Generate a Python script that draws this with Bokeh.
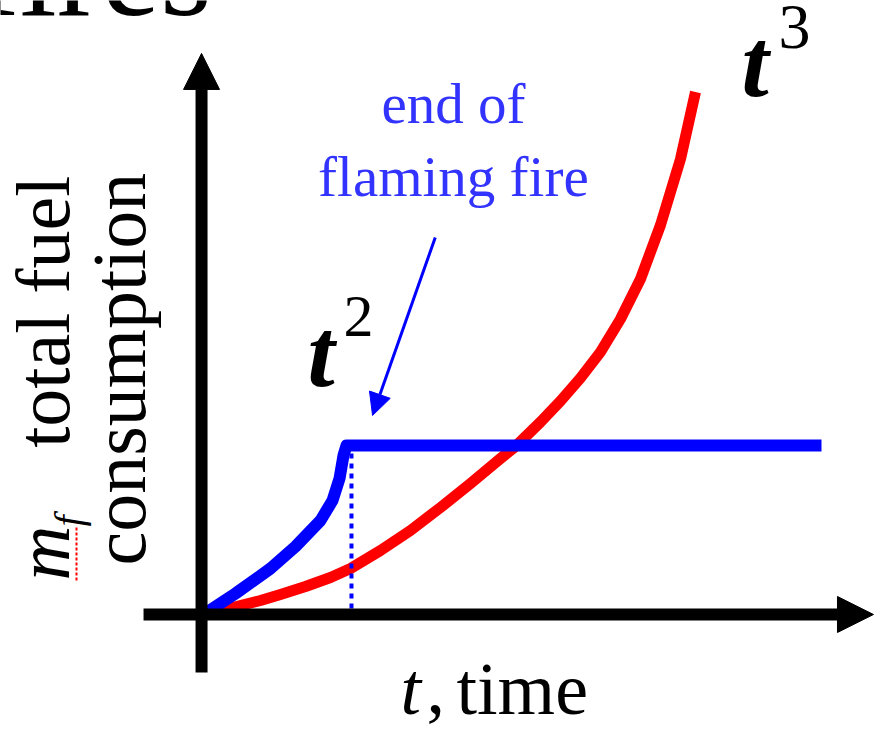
import math
from bokeh.plotting import figure
from bokeh.models import Range1d, Arrow, NormalHead, Label
from bokeh.embed import file_html
from bokeh.resources import INLINE

# ---- data (time t, total fuel consumption m) ----
flaming_t = [0.0, 0.653, 1.367, 1.878, 2.388, 2.633, 2.776, 2.857, 2.918, 12.612]
flaming_m = [0.0, 1.228, 2.690, 3.977, 5.497, 6.667, 7.953, 9.298, 9.883, 9.883]

smolder_t = [0.0, 0.204, 0.755, 1.163, 1.571, 2.082, 2.592, 3.000, 3.612, 4.224, 4.837,
             5.449, 6.061, 6.367, 6.878, 7.286, 7.694, 8.102, 8.510, 8.918, 9.327, 9.735, 10.041]
smolder_m = [0.0, 0.117, 0.526, 0.819, 1.170, 1.637, 2.164, 2.690, 3.743, 4.912, 6.257,
             7.661, 9.123, 9.825, 11.257, 12.485, 13.830, 15.351, 17.281, 19.620, 22.778, 26.637, 30.556]

end_flaming_t = 3.02
end_flaming_m = [9.41, -0.23]

# axis extents
x_axis_t = [-1.224, 13.673]
y_axis_m = [-3.39, 32.81]

# text labels
title_text = "fires"
note_lines = ["end of", "flaming fire"]
ylabel_line1 = "total fuel"
ylabel_line2 = "consumption"
xlabel_text = "time"

SERIF = "Liberation Serif"
PX_T = 49.0    # pixels per t unit
PX_M = 17.1    # pixels per m unit
BASE_FIX = 0.36  # baseline correction (fraction of font size)

p = figure(width=879, height=730, output_backend="svg", toolbar_location=None,
           x_range=Range1d(-4.143, 13.796), y_range=Range1d(-6.784, 35.906),
           min_border=0)
p.axis.visible = False
p.grid.visible = False
p.outline_line_color = None
p.background_fill_color = "white"
p.border_fill_color = "white"

# axes with arrow heads
p.add_layout(Arrow(end=NormalHead(size=36, fill_color="black", line_color="black", line_width=1),
                   x_start=x_axis_t[0], y_start=0, x_end=x_axis_t[1], y_end=0,
                   line_width=12, line_color="black"))
p.add_layout(Arrow(end=NormalHead(size=36, fill_color="black", line_color="black", line_width=1),
                   x_start=-0.04, y_start=y_axis_m[0], x_end=-0.04, y_end=y_axis_m[1],
                   line_width=12, line_color="black"))

# curves
p.line(smolder_t, smolder_m, line_color="#ff0000", line_width=11, line_join="round")
p.line(flaming_t, flaming_m, line_color="#0000ff", line_width=12, line_join="round")

# dotted marker at end of flaming
p.line([end_flaming_t, end_flaming_t], end_flaming_m, line_color="#0000ff",
       line_width=4, line_dash="5 5")

# pointer arrow
p.add_layout(Arrow(end=NormalHead(size=22, fill_color="#0000ff", line_color="#0000ff", line_width=1),
                   x_start=4.73, y_start=22.05, x_end=3.45, y_end=11.64,
                   line_width=3, line_color="#0000ff"))


def lab(text, x, y, size, color="black", style="normal", align="left", rotated=False):
    if rotated:
        x = x - BASE_FIX * size / PX_T
        angle = math.pi / 2
    else:
        y = y + BASE_FIX * size / PX_M
        angle = 0
    p.add_layout(Label(x=x, y=y, text=text, text_font=SERIF, text_font_size=f"{size}px",
                       text_font_style=style, text_color=color, text_align=align,
                       text_baseline="alphabetic", angle=angle))


# title fragment at top (cut off as in the slide)
lab(title_text, -4.655, 34.91, 133)

# note
lab(note_lines[0], 5.10, 28.71, 57, color="#3333ff", align="center")
lab(note_lines[1], 5.10, 24.39, 57, color="#3333ff", align="center")

# t^2 and t^3
lab("t", 2.122, 13.22, 98, style="bold italic")
lab("2", 2.857, 16.14, 60)
lab("t", 10.98, 30.18, 98, style="bold italic")
lab("3", 11.735, 32.98, 64)

# x label
lab("t", 4.02, -5.906, 74, style="italic")
lab(",", 4.55, -5.906, 74)
lab(xlabel_text, 5.163, -5.906, 74)

# y label (rotated, two lines)
p.line([-2.592, -2.592], [1.988, 5.09], line_color="#ff0000", line_width=2, line_dash="3 2")
lab("m", -2.714, 1.988, 76, style="italic", rotated=True)
lab("f", -2.47, 5.146, 40, style="italic", rotated=True)
lab(ylabel_line1, -2.714, 25.67, 76, align="right", rotated=True)
lab(ylabel_line2, -1.163, 2.865, 76, rotated=True)

open("out.html", "w").write(file_html(p, INLINE))
